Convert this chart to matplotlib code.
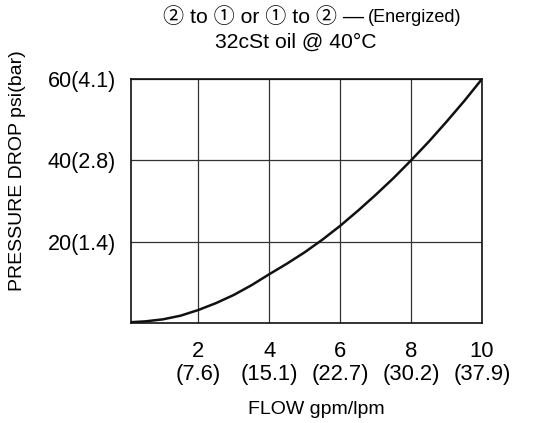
import matplotlib
matplotlib.use("Agg")
import matplotlib.pyplot as plt

flow_gpm = [0.1, 0.5, 1, 1.5, 2, 2.5, 3, 3.5, 4, 4.5, 5, 5.5, 6, 6.5, 7, 7.5, 8, 8.5, 9, 9.5, 10]
pressure_psi = [0.2, 0.4, 0.9, 1.8, 3.2, 4.9, 6.9, 9.3, 12.0, 14.6, 17.4, 20.5, 23.9,
                27.6, 31.5, 35.6, 40.0, 44.6, 49.5, 54.6, 60.0]
x_ticks = [2, 4, 6, 8, 10]
x_tick_labels = ["2\n(7.6)", "4\n(15.1)", "6\n(22.7)", "8\n(30.2)", "10\n(37.9)"]
y_ticks = [20, 40, 60]
y_tick_labels = ["20(1.4)", "40(2.8)", "60(4.1)"]

fams = ['Liberation Sans', 'DejaVu Sans', 'Noto Sans CJK SC']
plt.rcParams['font.family'] = fams

fig = plt.figure(figsize=(5.34, 4.23), dpi=100)
ax = fig.add_axes([131/534, 1-323/423, (482-131)/534, (323-79)/423])
ax.plot(flow_gpm, pressure_psi, color='#111111', lw=1.8, solid_capstyle='round',
        solid_joinstyle='round')
ax.set_xlim(0.1, 10)
ax.set_ylim(0, 60)
ax.set_xticks(x_ticks)
ax.set_xticklabels(x_tick_labels, fontsize=15.8, linespacing=1.1)
ax.set_yticks(y_ticks)
ax.set_yticklabels(y_tick_labels, fontsize=15.5)
ax.tick_params(length=0)
ax.tick_params(axis='x', pad=13)
ax.tick_params(axis='y', pad=11)
ax.grid(True, color='#333333', lw=0.9)
for s in ax.spines.values():
    s.set_color('#111111')
    s.set_linewidth(1.2)

fig.text(17.5/534, 1-171/423, "PRESSURE DROP psi(bar)", rotation=90, ha='center', va='center', fontsize=14)
fig.text(316/534, 1-409/423, "FLOW gpm/lpm", ha='center', va='center', fontsize=14)

t1 = fig.text(163/534, 1-17/423, "② to ① or ① to ② —", ha='left', va='center',
              fontsize=15.2, family=['Liberation Sans', 'Noto Sans CJK SC', 'DejaVu Sans'])
fig.canvas.draw()
bb = t1.get_window_extent(fig.canvas.get_renderer())
fig.text((bb.x1 + 4)/534, 1-18/423, "(Energized)", ha='left', va='center', fontsize=13)
fig.text(296/534, 1-42/423, "32cSt oil @ 40°C", ha='center', va='center', fontsize=15.2)

fig.savefig("out.png", dpi=100)
